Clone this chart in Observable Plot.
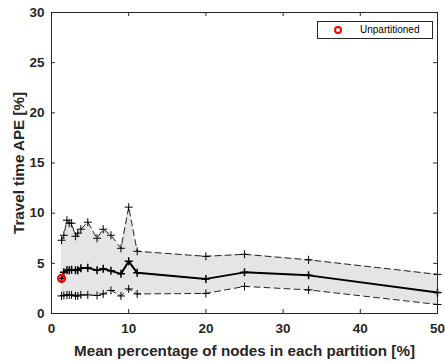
<!DOCTYPE html>
<html>
<head>
<meta charset="utf-8">
<script src="https://cdn.jsdelivr.net/npm/d3@7"></script>
<script src="https://cdn.jsdelivr.net/npm/@observablehq/plot@0.6"></script>
<style>
  html, body { margin: 0; padding: 0; background: #fff; }
  #wrap { position: relative; width: 445px; height: 362px; font-family: "Liberation Sans", Arial, sans-serif; }
  #legend { position: absolute; left: 317px; top: 21px; width: 116px; height: 18px; border: 1px solid #262626; background: #fff; box-sizing: border-box; font-size: 10px; color: #000; }
  #legend .mk { position: absolute; left: 16px; top: 4px; width: 4px; height: 4px; border: 2px solid #ff0000; border-radius: 50%; box-sizing: content-box; }
  #legend .tx { position: absolute; left: 42px; top: 2px; line-height: 12px; }
  #chart svg text { font-weight: bold; }
</style>
</head>
<body>
<div id="wrap"><div id="chart"></div><div id="legend"><span class="mk"></span><span class="tx">Unpartitioned</span></div></div>
<script>
// Mean percentage of nodes in each partition [%]
const xPct   = [1.3, 1.6, 2.0, 2.3, 2.6, 3.1, 3.4, 3.8, 4.7, 5.9, 6.7, 7.7, 9.0, 10.0, 11.1, 20, 25, 33.3, 50];
// Travel time APE [%]
const upper  = [7.3, 7.8, 9.3, 9.0, 9.0, 7.7, 8.0, 8.4, 9.1, 7.5, 8.4, 7.8, 6.5, 10.6, 6.2, 5.7, 5.9, 5.35, 3.9];
const meanV  = [3.5, 4.1, 4.3, 4.3, 4.35, 4.3, 4.3, 4.5, 4.55, 4.3, 4.45, 4.25, 3.95, 5.2, 4.05, 3.45, 4.1, 3.8, 2.1];
const lower  = [1.75, 1.8, 1.85, 1.85, 1.85, 1.75, 1.75, 1.85, 1.85, 1.8, 1.95, 2.3, 1.75, 2.45, 1.95, 2.0, 2.7, 2.35, 0.9];
const unpartX = [1.3];
const unpartY = [3.5];
const xTicks = [0, 10, 20, 30, 40, 50];
const yTicks = [0, 5, 10, 15, 20, 25, 30];

const rows = xPct.map((x, i) => ({x, lo: lower[i], mean: meanV[i], hi: upper[i]}));
const unpart = unpartX.map((x, i) => ({x, y: unpartY[i]}));

const plusSym = {
  draw(ctx, size) {
    const r = Math.sqrt(size / Math.PI);
    ctx.moveTo(-r, 0); ctx.lineTo(r, 0);
    ctx.moveTo(0, -r); ctx.lineTo(0, r);
  }
};

const ink = "#262626";
const xTickLen = 0.5;   // in x units (~4px)
const yTickLen = 0.4;   // in y units (~4px)

const chart = Plot.plot({
  width: 445,
  height: 362,
  marginLeft: 51,
  marginRight: 8,
  marginTop: 12,
  marginBottom: 49,
  style: {fontFamily: "Liberation Sans, Arial, sans-serif", fontSize: "13.5px", fontWeight: "bold", color: ink, background: "#fff"},
  x: {domain: [0, 50]},
  y: {domain: [0, 30]},
  marks: [
    Plot.areaY(rows, {x: "x", y1: "lo", y2: "hi", fill: "#e5e5e5", curve: "linear"}),
    Plot.line(rows, {x: "x", y: "hi", stroke: "#222", strokeWidth: 1, strokeDasharray: "6,4"}),
    Plot.line(rows, {x: "x", y: "lo", stroke: "#222", strokeWidth: 1, strokeDasharray: "6,4"}),
    Plot.line(rows, {x: "x", y: "mean", stroke: "#000", strokeWidth: 2}),
    Plot.dot(rows, {x: "x", y: "hi", symbol: plusSym, r: 4, stroke: "#000", strokeWidth: 1, fill: "none"}),
    Plot.dot(rows, {x: "x", y: "lo", symbol: plusSym, r: 4, stroke: "#000", strokeWidth: 1, fill: "none"}),
    Plot.dot(rows, {x: "x", y: "mean", symbol: plusSym, r: 4, stroke: "#000", strokeWidth: 1.5, fill: "none"}),
    Plot.dot(unpart, {x: "x", y: "y", r: 3.5, stroke: "#ff0000", strokeWidth: 2.2, fill: "none"}),
    // inward ticks on all four sides
    Plot.ruleX(xTicks, {y1: 0, y2: yTickLen, stroke: ink}),
    Plot.ruleX(xTicks, {y1: 30, y2: 30 - yTickLen, stroke: ink}),
    Plot.ruleY(yTicks, {x1: 0, x2: xTickLen, stroke: ink}),
    Plot.ruleY(yTicks, {x1: 50, x2: 50 - xTickLen, stroke: ink}),
    Plot.frame({stroke: ink}),
    Plot.axisX({ticks: xTicks, tickSize: 0, tickPadding: 10, fontWeight: "bold", label: null}),
    Plot.axisY({ticks: yTicks, tickSize: 0, tickPadding: 7, fontWeight: "bold", label: null}),
    Plot.axisX({ticks: [], tickSize: 0, label: "Mean percentage of nodes in each partition [%]", labelAnchor: "center", labelOffset: 42, labelArrow: "none", fontSize: 15.2}),
    Plot.axisY({ticks: [], tickSize: 0, label: "Travel time APE [%]", labelAnchor: "center", labelOffset: 38, labelArrow: "none", fontSize: 15.2})
  ]
});
document.getElementById("chart").appendChild(chart);
</script>
</body>
</html>
